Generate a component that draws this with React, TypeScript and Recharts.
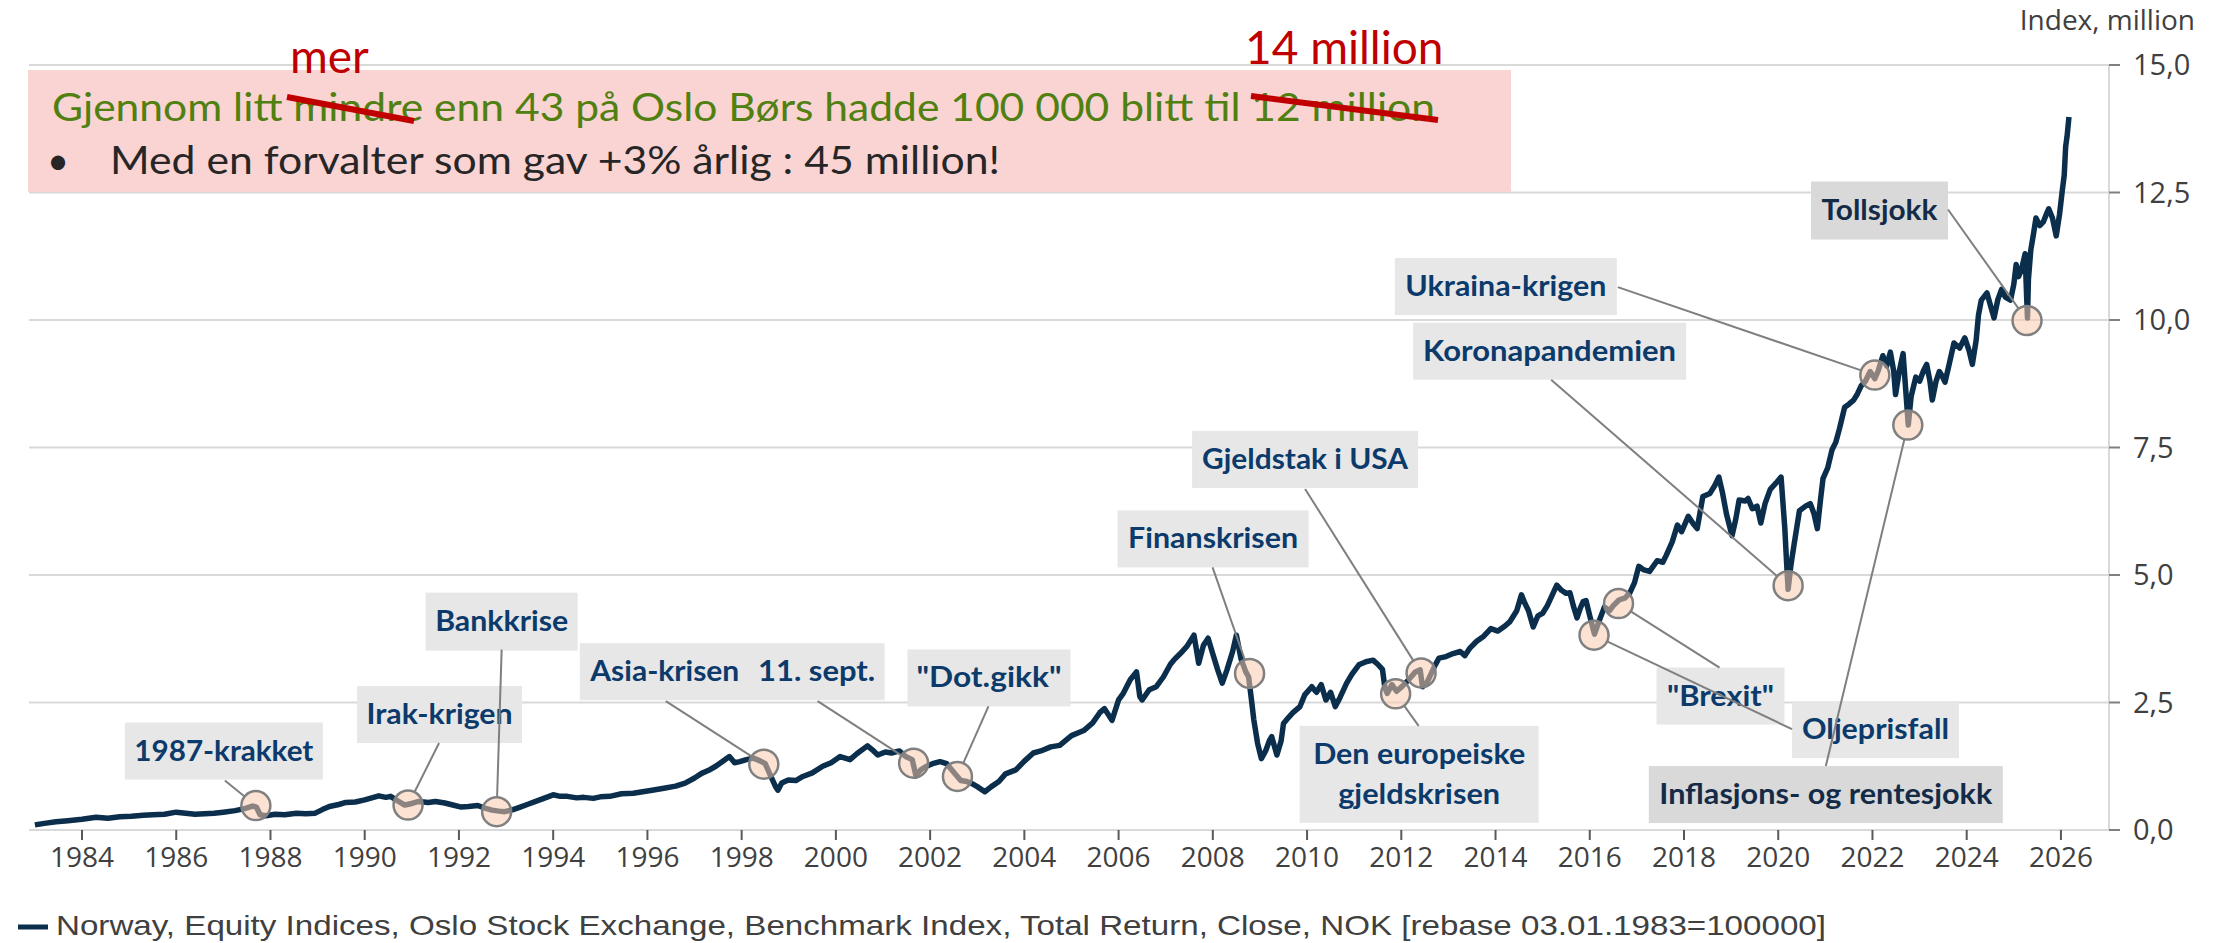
import React from "react";
import { LineChart, Line, XAxis, YAxis, CartesianGrid, ReferenceDot } from "recharts";

// Oslo Børs benchmark index, total return, rebased 03.01.1983 = 100 000 (values in NOK million)
const era1983: [number, number][] = [
  [1983.0, 0.1], [1983.2, 0.13], [1983.45, 0.16], [1983.7, 0.18], [1984.0, 0.21], [1984.3, 0.25],
  [1984.55, 0.23], [1984.8, 0.26], [1985.05, 0.27], [1985.3, 0.29], [1985.5, 0.3], [1985.75, 0.31],
  [1986.0, 0.35], [1986.2, 0.33], [1986.4, 0.31], [1986.6, 0.32], [1986.8, 0.33], [1987.0, 0.35],
  [1987.25, 0.38], [1987.45, 0.42], [1987.62, 0.47], [1987.7, 0.45], [1987.78, 0.3], [1987.9, 0.28],
  [1988.1, 0.31], [1988.3, 0.3], [1988.55, 0.33], [1988.75, 0.32], [1988.95, 0.33], [1989.1, 0.4],
  [1989.25, 0.46], [1989.45, 0.5], [1989.6, 0.54], [1989.8, 0.55], [1990.0, 0.59], [1990.15, 0.63],
  [1990.3, 0.67], [1990.45, 0.64], [1990.55, 0.66], [1990.7, 0.57], [1990.85, 0.49], [1991.0, 0.52],
  [1991.15, 0.56], [1991.35, 0.54], [1991.5, 0.56], [1991.7, 0.53], [1991.87, 0.49], [1992.05, 0.45],
  [1992.2, 0.46], [1992.4, 0.48], [1992.55, 0.43], [1992.7, 0.39], [1992.85, 0.37], [1992.97, 0.36],
  [1993.15, 0.4], [1993.3, 0.45], [1993.45, 0.5], [1993.6, 0.55], [1993.8, 0.62], [1994.0, 0.69],
  [1994.15, 0.66], [1994.3, 0.66], [1994.5, 0.63], [1994.65, 0.64], [1994.85, 0.62], [1995.0, 0.65],
  [1995.2, 0.66], [1995.45, 0.71], [1995.7, 0.72], [1995.9, 0.75], [1996.1, 0.78], [1996.35, 0.82],
  [1996.6, 0.86], [1996.8, 0.92],
];

const era1997: [number, number][] = [
  [1997.0, 1.02], [1997.15, 1.11], [1997.3, 1.17], [1997.45, 1.25], [1997.6, 1.35], [1997.74, 1.44],
  [1997.85, 1.32], [1997.96, 1.34], [1998.1, 1.38], [1998.25, 1.41], [1998.38, 1.36], [1998.5, 1.3],
  [1998.62, 1.05], [1998.72, 0.85], [1998.77, 0.78], [1998.85, 0.92], [1998.99, 0.98], [1999.15, 0.97],
  [1999.3, 1.05], [1999.5, 1.12], [1999.72, 1.25], [1999.9, 1.32], [2000.09, 1.44], [2000.3, 1.38],
  [2000.45, 1.5], [2000.67, 1.65], [2000.8, 1.55], [2000.89, 1.47], [2001.05, 1.53], [2001.18, 1.51],
  [2001.35, 1.55], [2001.48, 1.44], [2001.62, 1.38], [2001.7, 1.06], [2001.8, 1.18], [2001.92, 1.25],
  [2002.05, 1.3], [2002.21, 1.34], [2002.35, 1.3], [2002.43, 1.21], [2002.55, 1.08], [2002.65, 0.97],
  [2002.78, 0.95], [2002.87, 0.92], [2003.0, 0.85], [2003.16, 0.75], [2003.3, 0.85], [2003.46, 0.95],
  [2003.6, 1.1], [2003.82, 1.18], [2004.0, 1.35], [2004.19, 1.51], [2004.35, 1.55], [2004.56, 1.63],
  [2004.75, 1.66], [2005.0, 1.85], [2005.26, 1.95], [2005.45, 2.1], [2005.6, 2.3], [2005.7, 2.38],
  [2005.86, 2.15],
];

const era2006: [number, number][] = [
  [2006.0, 2.55], [2006.1, 2.68], [2006.25, 2.95], [2006.38, 3.1], [2006.45, 2.62], [2006.5, 2.55],
  [2006.65, 2.75], [2006.8, 2.81], [2006.95, 3.0], [2007.1, 3.25], [2007.17, 3.33], [2007.3, 3.45],
  [2007.45, 3.6], [2007.6, 3.82], [2007.65, 3.55], [2007.7, 3.27], [2007.8, 3.62], [2007.9, 3.76],
  [2008.0, 3.45], [2008.1, 3.15], [2008.2, 2.88], [2008.3, 3.14], [2008.42, 3.5], [2008.5, 3.82],
  [2008.6, 3.35], [2008.7, 3.1], [2008.76, 3.0], [2008.82, 2.55], [2008.87, 2.16], [2008.95, 1.7],
  [2009.03, 1.4], [2009.12, 1.55], [2009.2, 1.75], [2009.25, 1.83], [2009.36, 1.47], [2009.45, 1.75],
  [2009.5, 2.09], [2009.6, 2.2], [2009.7, 2.3], [2009.85, 2.42], [2009.95, 2.65], [2010.1, 2.81],
  [2010.2, 2.7], [2010.3, 2.85], [2010.4, 2.55], [2010.5, 2.7], [2010.6, 2.42], [2010.7, 2.6],
  [2010.84, 2.88], [2010.95, 3.05], [2011.1, 3.24], [2011.25, 3.3], [2011.4, 3.33], [2011.5, 3.25],
  [2011.6, 3.15], [2011.65, 2.8], [2011.7, 2.68], [2011.8, 2.85], [2011.9, 2.72], [2012.0, 2.8],
  [2012.15, 2.94], [2012.3, 3.1], [2012.4, 3.14], [2012.45, 2.81], [2012.55, 2.9], [2012.7, 3.2],
  [2012.8, 3.37],
];

const era2013: [number, number][] = [
  [2012.95, 3.4], [2013.1, 3.46], [2013.25, 3.5], [2013.35, 3.42], [2013.45, 3.56], [2013.6, 3.7],
  [2013.75, 3.8], [2013.9, 3.95], [2014.05, 3.9], [2014.2, 4.0], [2014.3, 4.08], [2014.45, 4.3],
  [2014.55, 4.61], [2014.62, 4.45], [2014.7, 4.3], [2014.8, 3.98], [2014.9, 4.2], [2015.0, 4.25],
  [2015.1, 4.4], [2015.2, 4.6], [2015.3, 4.8], [2015.4, 4.7], [2015.5, 4.64], [2015.58, 4.65],
  [2015.65, 4.4], [2015.73, 4.16], [2015.8, 4.35], [2015.86, 4.48], [2015.92, 4.5], [2016.0, 4.2],
  [2016.1, 3.84], [2016.2, 4.1], [2016.31, 4.37], [2016.42, 4.3], [2016.5, 4.4], [2016.62, 4.51],
  [2016.75, 4.55], [2016.85, 4.65], [2016.95, 4.85], [2017.04, 5.17], [2017.15, 5.1], [2017.27, 5.07],
  [2017.43, 5.28], [2017.55, 5.25], [2017.62, 5.38], [2017.75, 5.65], [2017.86, 5.98], [2017.95, 5.85],
  [2018.09, 6.15], [2018.2, 6.0], [2018.28, 5.91], [2018.4, 6.54], [2018.55, 6.6], [2018.65, 6.75],
  [2018.74, 6.92], [2018.82, 6.6], [2018.9, 6.2], [2019.02, 5.77], [2019.1, 6.1], [2019.17, 6.47],
  [2019.3, 6.45], [2019.36, 6.5], [2019.45, 6.3], [2019.55, 6.35], [2019.63, 6.02], [2019.72, 6.4],
  [2019.83, 6.68], [2019.95, 6.8], [2020.06, 6.92],
];

const era2020: [number, number][] = [
  [2020.14, 5.91], [2020.18, 5.2], [2020.21, 4.72], [2020.27, 5.2], [2020.33, 5.56], [2020.45, 6.26],
  [2020.58, 6.35], [2020.68, 6.4], [2020.76, 6.2], [2020.83, 5.91], [2020.9, 6.5], [2020.95, 6.89],
  [2021.05, 7.1], [2021.14, 7.45], [2021.22, 7.6], [2021.3, 7.87], [2021.41, 8.29], [2021.5, 8.35],
  [2021.6, 8.43], [2021.68, 8.55], [2021.76, 8.71], [2021.85, 8.8], [2021.95, 8.99], [2022.05, 8.85],
  [2022.12, 9.0], [2022.22, 9.3], [2022.3, 9.1], [2022.38, 9.37], [2022.45, 9.0], [2022.49, 8.54],
  [2022.57, 9.0], [2022.65, 9.34], [2022.7, 8.7], [2022.76, 7.94], [2022.82, 8.5], [2022.92, 8.88],
  [2023.0, 8.8], [2023.08, 9.0], [2023.15, 9.13], [2023.22, 8.8], [2023.27, 8.43], [2023.35, 8.8],
  [2023.42, 8.99], [2023.48, 8.9], [2023.54, 8.78], [2023.62, 9.1], [2023.73, 9.55], [2023.85, 9.45],
  [2023.96, 9.65], [2024.05, 9.4], [2024.12, 9.13], [2024.2, 9.6], [2024.25, 10.1], [2024.31, 10.39],
  [2024.43, 10.53], [2024.5, 10.3], [2024.58, 10.04], [2024.66, 10.4], [2024.74, 10.6], [2024.82, 10.45],
  [2024.93, 10.39], [2025.0, 10.7], [2025.05, 11.09], [2025.1, 10.85], [2025.16, 10.98], [2025.24, 11.3],
  [2025.27, 10.5], [2025.29, 10.04], [2025.31, 10.8], [2025.36, 11.37], [2025.42, 11.7], [2025.47, 12.0],
  [2025.55, 11.85], [2025.63, 11.93], [2025.68, 12.05], [2025.74, 12.18], [2025.82, 12.0], [2025.9, 11.65],
  [2025.97, 12.07], [2026.03, 12.55], [2026.07, 12.84], [2026.1, 13.4], [2026.13, 13.6], [2026.17, 13.98],
];

const yearTicks = [
  1984, 1986, 1988, 1990, 1992, 1994, 1996, 1998, 2000, 2002, 2004, 2006, 2008, 2010, 2012, 2014,
  2016, 2018, 2020, 2022, 2024, 2026,
];
const valueTicks = [0, 2.5, 5, 7.5, 10, 12.5, 15];

// markets events: where the circle sits on the curve
const events = [
  { label: "1987-krakket", t: 1987.69, v: 0.48 },
  { label: "Irak-krigen", t: 1990.92, v: 0.49 },
  { label: "Bankkrise", t: 1992.8, v: 0.36 },
  { label: "Asia-krisen", t: 1998.47, v: 1.29 },
  { label: "11. sept.", t: 2001.65, v: 1.31 },
  { label: '"Dot.gikk"', t: 2002.58, v: 1.05 },
  { label: "Finanskrisen", t: 2008.78, v: 3.07 },
  { label: "Gjeldstak i USA", t: 2012.42, v: 3.08 },
  { label: "Den europeiske\ngjeldskrisen", t: 2011.88, v: 2.67 },
  { label: "Oljeprisfall", t: 2016.09, v: 3.82 },
  { label: '"Brexit"', t: 2016.61, v: 4.44 },
  { label: "Koronapandemien", t: 2020.21, v: 4.79 },
  { label: "Ukraina-krigen", t: 2022.05, v: 8.92 },
  { label: "Inflasjons- og rentesjokk", t: 2022.75, v: 7.94 },
  { label: "Tollsjokk", t: 2025.28, v: 9.99 },
];

type Callout = { dx: number; dy: number; w: number; h: number; ax: number; ay: number; tw: number[]; dark?: boolean };

// label box placement in pixels, relative to the circle
const calloutLayout: Record<string, Callout> = {
  "1987-krakket": { dx: -131, dy: -83, w: 198, h: 57, ax: -31, ay: -25, tw: [179] },
  "Irak-krigen": { dx: -51, dy: -119, w: 165, h: 57, ax: 31, ay: -62, tw: [146] },
  Bankkrise: { dx: -71, dy: -219, w: 152, h: 58, ax: 5, ay: -162, tw: [133] },
  "Asia-krisen": { dx: -184, dy: -121, w: 170, h: 57, ax: -98, ay: -63, tw: [149] },
  "11. sept.": { dx: -165, dy: -120, w: 136, h: 57, ax: -96, ay: -62, tw: [117] },
  '"Dot.gikk"': { dx: -50, dy: -127, w: 163, h: 57, ax: 31, ay: -70, tw: [145] },
  Finanskrisen: { dx: -132, dy: -163, w: 191, h: 57, ax: -37, ay: -106, tw: [170] },
  "Gjeldstak i USA": { dx: -229, dy: -242, w: 226, h: 57, ax: -116, ay: -184, tw: [206] },
  "Den europeiske\ngjeldskrisen": { dx: -96, dy: 32, w: 239, h: 97, ax: 23, ay: 32, tw: [212, 162] },
  Oljeprisfall: { dx: 198, dy: 66, w: 167, h: 57, ax: 198, ay: 94, tw: [147] },
  '"Brexit"': { dx: 38, dy: 64, w: 128, h: 57, ax: 101, ay: 64, tw: [107] },
  Koronapandemien: { dx: -375, dy: -263, w: 273, h: 57, ax: -237, ay: -206, tw: [253] },
  "Ukraina-krigen": { dx: -480, dy: -117, w: 222, h: 57, ax: -257, ay: -88, tw: [201] },
  "Inflasjons- og rentesjokk": { dx: -259, dy: 341, w: 354, h: 57, ax: -82, ay: 341, tw: [333], dark: true },
  Tollsjokk: { dx: -216, dy: -139, w: 137, h: 58, ax: -79, ay: -111, tw: [116], dark: true },
};

const series = [...era1983, ...era1997, ...era2006, ...era2013, ...era2020].map(([t, v]) => ({ t, v }));

const NAVY = "#0a2e4c";
const RING = 14.5;

function CalloutBox({ cx, cy, label }: { cx: number; cy: number; label: string }) {
  const c = calloutLayout[label];
  const lines = label.split("\n");
  const x = cx + c.dx;
  const y = cy + c.dy;
  return (
    <g>
      <rect x={x} y={y} width={c.w} height={c.h} fill={c.dark ? "#d9d9d9" : "#e7e7e7"} />
      {lines.map((ln, i) => (
        <text
          key={i}
          x={x + c.w / 2}
          y={lines.length === 1 ? y + c.h / 2 + 9.5 : y + 38 + i * 40}
          textAnchor="middle"
          fontFamily="Lato"
          fontWeight={700}
          fontSize={28}
          fill={c.dark ? "#132b47" : "#0b3a6b"}
          textLength={c.tw[i]}
          lengthAdjust="spacingAndGlyphs"
        >
          {ln}
        </text>
      ))}
    </g>
  );
}

function Leader({ cx, cy, label }: { cx: number; cy: number; label: string }) {
  const c = calloutLayout[label];
  const len = Math.hypot(c.ax, c.ay);
  return (
    <line
      x1={cx + (c.ax / len) * RING}
      y1={cy + (c.ay / len) * RING}
      x2={cx + c.ax}
      y2={cy + c.ay}
      stroke="#7f7f7f"
      strokeWidth={2}
    />
  );
}

function YearTick({ x, y, payload }: any) {
  return (
    <text x={x} y={y + 27} textAnchor="middle" fontFamily="Open Sans" fontSize={28} fill="#404040">
      {payload.value}
    </text>
  );
}

function ValueTick({ x, y, payload }: any) {
  return (
    <text x={x} y={y} dy="0.36em" textAnchor="start" fontFamily="Open Sans" fontSize={29} fill="#404040">
      {payload.value.toFixed(1).replace(".", ",")}
    </text>
  );
}

export default function App() {
  return (
    <div style={{ position: "absolute", left: 0, top: 0, width: 2217, height: 943, background: "#fff" }}>
      <LineChart width={2217} height={943} data={series} margin={{ top: 65, right: 0, left: 29, bottom: 0 }}>
        <CartesianGrid vertical={false} stroke="#d9d9d9" strokeWidth={2} />
        <XAxis
          dataKey="t"
          type="number"
          domain={[1982.875, 2027.02]}
          allowDataOverflow
          ticks={yearTicks}
          height={113}
          tickSize={10}
          tickMargin={0}
          tickLine={{ stroke: "#595959", strokeWidth: 2 }}
          axisLine={{ stroke: "#d9d9d9", strokeWidth: 2 }}
          tick={<YearTick />}
        />
        <YAxis
          orientation="right"
          width={108}
          domain={[0, 15]}
          ticks={valueTicks}
          tickSize={11}
          tickMargin={13}
          tickLine={{ stroke: "#808080", strokeWidth: 2 }}
          axisLine={{ stroke: "#d9d9d9", strokeWidth: 2 }}
          tick={<ValueTick />}
        />
        <Line
          type="linear"
          dataKey="v"
          stroke={NAVY}
          strokeWidth={5.5}
          strokeLinejoin="round"
          dot={false}
          isAnimationActive={false}
        />
        {events.map((e) => (
          <ReferenceDot
            key={"box-" + e.label}
            x={e.t}
            y={e.v}
            shape={(p: any) => <CalloutBox cx={p.cx} cy={p.cy} label={e.label} />}
          />
        ))}
        {events.map((e) => (
          <ReferenceDot
            key={"lead-" + e.label}
            x={e.t}
            y={e.v}
            shape={(p: any) => <Leader cx={p.cx} cy={p.cy} label={e.label} />}
          />
        ))}
        {events.map((e) => (
          <ReferenceDot
            key={"ring-" + e.label}
            x={e.t}
            y={e.v}
            shape={(p: any) => (
              <circle cx={p.cx} cy={p.cy} r={RING} fill="#f8cbad" fillOpacity={0.55} stroke="#808080" strokeWidth={2.5} />
            )}
          />
        ))}
      </LineChart>

      <svg
        width={2217}
        height={943}
        style={{ position: "absolute", left: 0, top: 0, pointerEvents: "none" }}
      >
        <text x={2195} y={30} textAnchor="end" fontFamily="Open Sans" fontSize={28} fill="#404040">
          Index, million
        </text>

        <rect x={28} y={70} width={1483} height={122} fill="#fad3d3" />
        <text x={52} y={121} fontFamily="Lato" fontSize={38} fill="#4f8010" textLength={1383} lengthAdjust="spacingAndGlyphs">
          Gjennom litt mindre enn 43 på Oslo Børs hadde 100 000 blitt til 12 million
        </text>
        <line x1={287} y1={97} x2={414} y2={121} stroke="#c00000" strokeWidth={6} />
        <line x1={1251} y1={96} x2={1438} y2={120} stroke="#c00000" strokeWidth={6} />
        <text x={290} y={73} fontFamily="Lato" fontSize={46} fill="#c00000">
          mer
        </text>
        <text x={1245} y={64} fontFamily="Lato" fontSize={46} fill="#c00000">
          14 million
        </text>
        <text x={47} y={174} fontFamily="Lato" fontSize={38} fill="#262626">
          •
        </text>
        <text x={110} y={174} fontFamily="Lato" fontSize={38} fill="#262626" textLength={890} lengthAdjust="spacingAndGlyphs">
          Med en forvalter som gav +3% årlig : 45 million!
        </text>

        <line x1={18} y1={927} x2={48} y2={927} stroke={NAVY} strokeWidth={5} />
        <text
          x={56}
          y={935}
          fontFamily="Liberation Sans, Arial, sans-serif"
          fontSize={28}
          fill="#404040"
          textLength={1770}
          lengthAdjust="spacingAndGlyphs"
        >
          Norway, Equity Indices, Oslo Stock Exchange, Benchmark Index, Total Return, Close, NOK [rebase 03.01.1983=100000]
        </text>
      </svg>
    </div>
  );
}
